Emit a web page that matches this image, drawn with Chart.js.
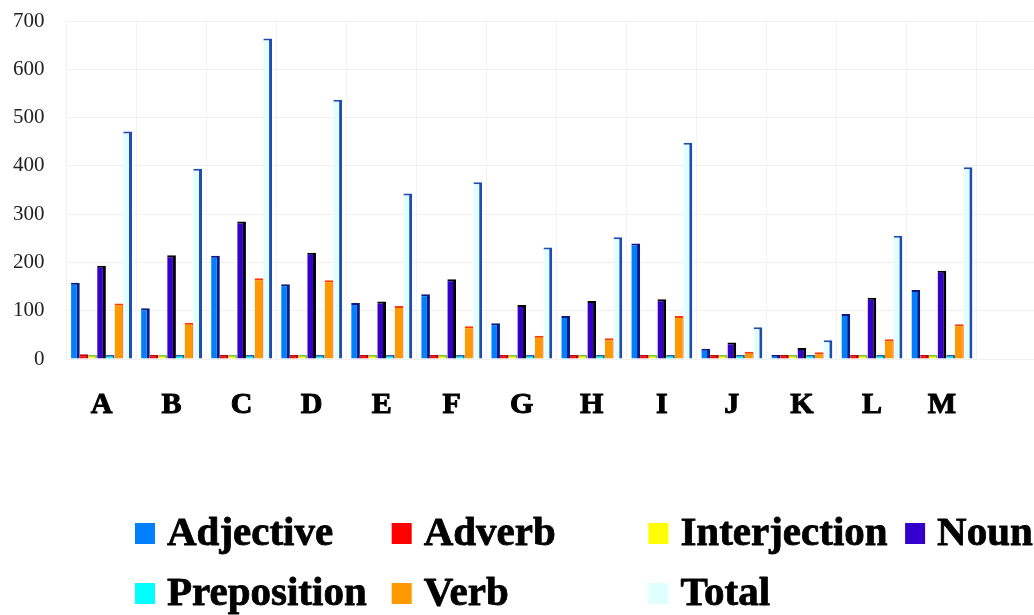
<!DOCTYPE html>
<html>
<head>
<meta charset="utf-8">
<script src="https://cdn.jsdelivr.net/npm/chart.js@4/dist/chart.umd.min.js"></script>
<style>
  html, body { margin: 0; padding: 0; background: #ffffff; overflow: hidden; }
  #wrap { position: relative; width: 1034px; height: 615px; overflow: hidden; }
  canvas { display: block; }
</style>
</head>
<body>
<div id="wrap"><canvas id="c" width="1050" height="615"></canvas></div>
<script>
// Word classes per text, A to M
const categories = ['A','B','C','D','E','F','G','H','I','J','K','L','M'];
const adjective    = [158, 105, 214, 155, 116, 134,  74,  89, 239, 21,  5,  93, 143];
const adverb       = [ 10,   2,   2,   2,   3,   4,   2,   3,   2,  2,  2,   2,   8];
const interjection = [  1,   1,   1,   1,   1,   1,   1,   1,   1,  1,  1,   1,   1];
const noun         = [193, 215, 285, 220, 119, 165, 112, 120, 124, 34, 23, 127, 183];
const preposition  = [  2,   2,   2,   2,   2,   2,   2,   2,   2,  2,  2,   2,   2];
const verb         = [115,  75, 167, 163, 110,  68,  48,  43,  89, 15, 14,  41,  72];
const total        = [471, 394, 664, 537, 343, 366, 231, 252, 448, 66, 39, 255, 397];
const yTicks       = [0, 100, 200, 300, 400, 500, 600, 700];

// one spare slot on the right keeps the plot running to the edge
const labels = categories.concat(['']);

const SERIF = "'Liberation Serif', 'Times New Roman', serif";

function series(label, data, bg, side, sideW, topW) {
  return {
    label, data,
    backgroundColor: bg,
    borderColor: side,
    borderWidth: { top: topW, right: sideW, bottom: 0, left: 0 },
    borderSkipped: 'start',
    categoryPercentage: 0.87,
    barPercentage: 1.0,
    minBarLength: 4
  };
}

const datasets = [
  series('Adjective',    adjective,    '#0080ff', '#0a1a80', 3, 2),
  series('Adverb',       adverb,       '#ff0000', '#c00000', 3, 2),
  series('Interjection', interjection, '#ffff00', '#7cc03c', 2, 3),
  series('Noun',         noun,         '#3300cc', '#000000', 3, 2),
  series('Preposition',  preposition,  '#00ffff', '#2a64a8', 2, 3),
  series('Verb',         verb,         '#ff9900', '#ff3a00', 1, 2),
  series('Total',        total,        '#e0ffff', '#1f4cb0', 3, 2)
];

// Legend laid out in fixed columns below the plot
const gridLegend = {
  id: 'gridLegend',
  afterDraw(chart) {
    const ctx = chart.ctx;
    const cols = 4, colW = 256.7, x0 = 135;
    const rowBase = [545, 605];
    ctx.save();
    ctx.font = "bold 41px " + SERIF;
    ctx.textBaseline = 'alphabetic';
    ctx.textAlign = 'left';
    ctx.lineWidth = 0.8;
    ctx.strokeStyle = '#000000';
    ctx.lineJoin = 'round';
    chart.data.datasets.forEach((ds, i) => {
      const col = i % cols, row = Math.floor(i / cols);
      const bx = x0 + col * colW;
      const base = rowBase[row];
      ctx.fillStyle = ds.backgroundColor;
      ctx.fillRect(bx, base - 22, 20, 21);
      ctx.fillStyle = '#000000';
      ctx.fillText(ds.label, bx + 32, base);
      ctx.strokeText(ds.label, bx + 32, base);
    });
    ctx.restore();
  }
};

new Chart(document.getElementById('c'), {
  type: 'bar',
  data: { labels, datasets },
  plugins: [gridLegend],
  options: {
    responsive: false,
    animation: false,
    devicePixelRatio: 1,
    layout: { padding: { top: 21, left: -9, right: 3, bottom: 164 } },
    plugins: {
      legend: { display: false },
      tooltip: { enabled: false }
    },
    scales: {
      x: {
        grid: { color: '#f3f3f3', drawTicks: false },
        border: { display: false },
        ticks: {
          padding: 28,
          color: '#000000',
          textStrokeColor: '#000000',
          textStrokeWidth: 1,
          font: { family: SERIF, size: 30, weight: 'bold' }
        }
      },
      y: {
        min: 0,
        max: 700,
        afterBuildTicks(axis) { axis.ticks = yTicks.map(v => ({ value: v })); },
        // let the top tick label sit in the page margin
        afterFit(axis) { axis.paddingTop = 0; },
        grid: { color: '#f0f0f0', drawTicks: false },
        border: { display: false },
        ticks: {
          padding: 22,
          color: '#222222',
          font: { family: SERIF, size: 21 }
        }
      }
    }
  }
});
</script>
</body>
</html>
